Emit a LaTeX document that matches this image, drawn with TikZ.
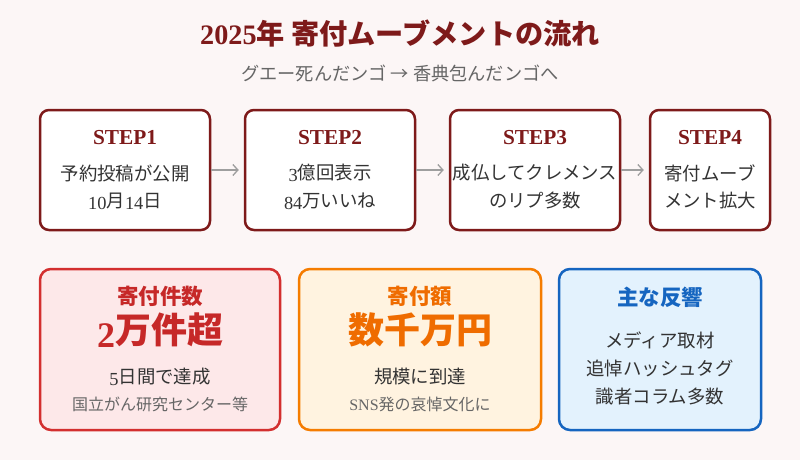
\documentclass[tikz,border=0pt]{standalone}
\usepackage{fontspec}
\setmainfont{Noto Sans CJK JP}
\newfontfamily\tm{Liberation Serif}
\newcommand{\lnum}[1]{\raisebox{-0.12em}{\tm #1}}
\usetikzlibrary{arrows.meta}
\definecolor{bg}{HTML}{FCF6F6}
\definecolor{darkred}{HTML}{7E1A1A}
\definecolor{flowgray}{HTML}{9E9E9E}
\definecolor{bodytext}{HTML}{333333}
\definecolor{subtext}{HTML}{666666}
\definecolor{redline}{HTML}{D32F2F}
\definecolor{redfill}{HTML}{FDE8E9}
\definecolor{redtext}{HTML}{C62828}
\definecolor{orangeline}{HTML}{F57C00}
\definecolor{orangefill}{HTML}{FFF3E0}
\definecolor{orangetext}{HTML}{EF6C00}
\definecolor{blueline}{HTML}{1565C0}
\definecolor{bluefill}{HTML}{E3F2FD}

\begin{document}
\begin{tikzpicture}[x=1pt,y=-1pt,
    stepbox/.style={draw=darkred,line width=2.5pt,fill=white,rounded corners=9pt,minimum height=120pt},
    infobox/.style={line width=2.5pt,rounded corners=11pt,minimum height=161pt},
    flow/.style={draw=flowgray,line width=1.3pt,-{Straight Barb[length=5pt,width=11pt]},shorten >=5pt},
    steplabel/.style={text=darkred,font=\tm\bfseries\fontsize{21.3}{24}\selectfont},
    body/.style={text=bodytext,font=\fontsize{18.4}{21}\selectfont},
    note/.style={text=subtext,font=\fontsize{16}{19}\selectfont},
    head/.style={font=\bfseries\fontsize{21.5}{24}\selectfont},
    big/.style={font=\bfseries\fontsize{36}{40}\selectfont}]
    \fill[bg] (0,0) rectangle (800,460);
    \useasboundingbox (0,0) rectangle (800,460);
    \node[text=darkred,font=\bfseries\fontsize{28.2}{32}\selectfont](title)at (400,34){{\tm 2025}年 寄付ムーブメントの流れ};
    \node[text=subtext,font=\fontsize{18.2}{21}\selectfont](sub)at (400,73){グエー死んだンゴ → 香典包んだンゴへ};
    \node[stepbox,minimum width=170pt](s1)at (125,170){};
    \node[stepbox,minimum width=170pt](s2)at (330,170){};
    \node[stepbox,minimum width=170pt](s3)at (535,170){};
    \node[stepbox,minimum width=120pt](s4)at (710,170){};
    \draw[flow](s1)--(s2);
    \draw[flow](s2)--(s3);
    \draw[flow](s3)--(s4);
    \node[steplabel](l1)at (125,138){STEP1};
    \node[steplabel](l2)at (330,138){STEP2};
    \node[steplabel](l3)at (535,138){STEP3};
    \node[steplabel](l4)at (710,138){STEP4};
    \node[body](t1a)at (125,173){予約投稿が公開};
    \node[body](t1b)at (125,201){\lnum{10}月\lnum{14}日};
    \node[body](t2a)at (330,173){\lnum{3}億回表示};
    \node[body](t2b)at (330,201){\lnum{84}万いいね};
    \node[body](t3a)at (535,173){成仏してクレメンス};
    \node[body](t3b)at (535,201){のリプ多数};
    \node[body](t4a)at (710,173){寄付ムーブ};
    \node[body](t4b)at (710,201){メント拡大};
    \node[infobox,draw=redline,fill=redfill,minimum width=240pt](count)at (160,349.5){};
    \node[infobox,draw=orangeline,fill=orangefill,minimum width=242pt](amount)at (420,349.5){};
    \node[infobox,draw=blueline,fill=bluefill,minimum width=202pt](react)at (660,349.5){};
    \node[head,text=redtext](ch)at (160,296){寄付件数};
    \node[big,text=redtext](cb)at (160,330){\lnum{2}万件超};
    \node[body](c1)at (160,377){\lnum{5}日間で達成};
    \node[note](c2)at (160,404){国立がん研究センター等};
    \node[head,text=orangetext](ah)at (420,296){寄付額};
    \node[big,text=orangetext](ab)at (420,330){数千万円};
    \node[body](a1)at (420,377){規模に到達};
    \node[note](a2)at (420,404){{\tm SNS}発の哀悼文化に};
    \node[head,text=blueline](rh)at (660,297){主な反響};
    \node[body](r1)at (660,340){メディア取材};
    \node[body](r2)at (660,368){追悼ハッシュタグ};
    \node[body](r3)at (660,397){識者コラム多数};
\end{tikzpicture}
\end{document}
